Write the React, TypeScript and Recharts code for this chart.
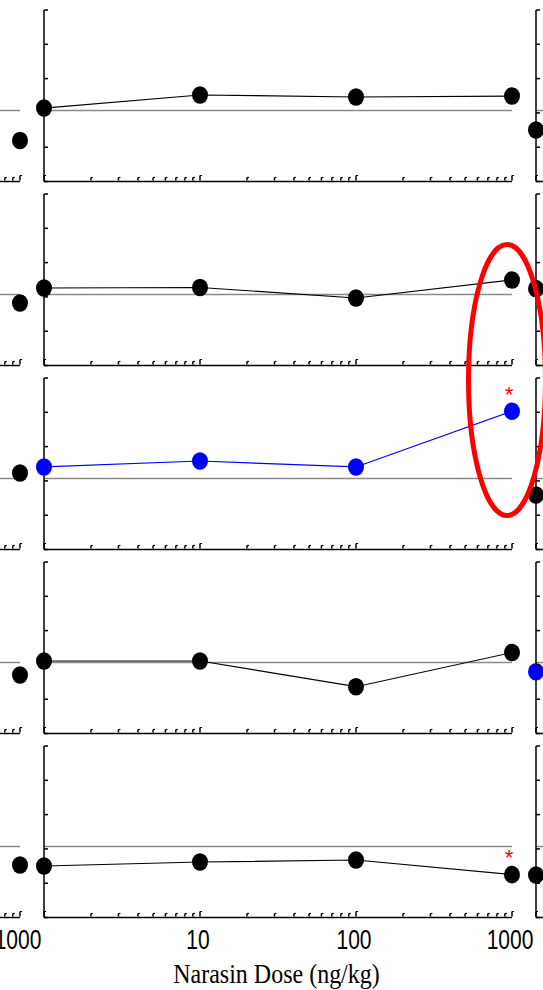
import React from 'react';
import { ComposedChart, Line, XAxis, YAxis } from 'recharts';

// ---- data ----
const doses = [1, 10, 100, 1000];
const xTicks = [1, 2, 3, 4, 5, 6, 7, 8, 9, 10, 20, 30, 40, 50, 60, 70, 80, 90, 100, 200, 300, 400, 500, 600, 700, 800, 900, 1000];
const majorTicks = [1, 10, 100, 1000];
const xLabels = [10, 100, 1000];
const leftNeighborLabels = [1000];
const yTicks = [0, 50, 100, 150, 200, 250];
const baseline = 103.5;

const panelA = [107.1, 126.1, 123.2, 124.6];
const panelB = [113.0, 113.7, 98.4, 124.7];
const panelC = [120.3, 129.0, 120.3, 201.5];
const panelD = [105.7, 105.7, 68.2, 118.0];
const panelE = [75.1, 80.9, 83.8, 62.5];
const mainPanels = [panelA, panelB, panelC, panelD, panelE];
const mainColors = ['#000000', '#000000', '#0000ff', '#000000', '#000000'];
const mainSignificant = [[], [], [1000], [], [1000]];

// partially visible neighbouring columns of the figure
const leftNeighbor1000 = [59.8, 91.1, 111.5, 85.3, 76.5];
const rightNeighbor1 = [75.1, 112.0, 79.4, 90.1, 62.0];
const rightColors = ['#000000', '#000000', '#000000', '#0000ff', '#000000'];

const xTitle = 'Narasin Dose (ng/kg)';

const PANEL_STEP = 184;
const COLUMN_STEP = 492;

function makeXTick(labels: number[]) {
  return (p: any) => {
    const v = p.payload.value;
    const major = majorTicks.includes(v);
    const x = p.x;
    const y = p.y - 1;
    const h = major ? 5 : 3;
    return (
      <g key={`t-${v}`}>
        <line x1={x} x2={x} y1={y} y2={y - h} stroke="#000" strokeWidth={1.5} />
        <line x1={x} x2={x + 2} y1={y - h} y2={y - h} stroke="#000" strokeWidth={1.2} />
        {labels.includes(v) && (
          <text
            transform={`translate(${x - 2},${y + 32.5}) scale(1,1.35)`}
            textAnchor="middle"
            fontFamily="'Liberation Sans', Arial, sans-serif"
            fontSize={21}
            fill="#000"
          >
            {v}
          </text>
        )}
      </g>
    );
  };
}

function yTick(p: any) {
  return (
    <g key={`y-${p.payload.value}`}>
      <line x1={p.x} x2={p.x + 4} y1={p.y} y2={p.y} stroke="#000" strokeWidth={1.5} />
    </g>
  );
}

function titleContent(props: any) {
  const vb = props.viewBox || {};
  const cx = vb.x + vb.width / 2 - 1.5;
  const cy = vb.y + 65.5;
  return (
    <text
      transform={`translate(${cx},${cy}) scale(1,1.12)`}
      textAnchor="middle"
      fontFamily="'Liberation Serif', 'Times New Roman', serif"
      fontSize={24}
      fill="#000"
    >
      {xTitle}
    </text>
  );
}

function makeDot(color: string, sig: number[]) {
  return (p: any) => {
    const { cx, cy, payload, index } = p;
    if (cx == null || cy == null) return <g key={`d-${index}`} />;
    return (
      <g key={`d-${index}`}>
        <ellipse cx={cx} cy={cy} rx={8} ry={8.8} fill={color} stroke="none" />
        {sig.includes(payload.dose) && (
          <text x={cx - 3} y={cy - 9.5} textAnchor="middle" fontFamily="'Liberation Sans', Arial, sans-serif" fontSize={22} fill="#ff0000">
            *
          </text>
        )}
      </g>
    );
  };
}

type PanelProps = {
  values: (number | null)[];
  color: string;
  sig: number[];
  left: number;
  top: number;
  last: boolean;
  labels: number[];
  showTitle: boolean;
};

function Panel({ values, color, sig, left, top, last, labels, showTitle }: PanelProps) {
  const data = doses.map((d, i) => ({ dose: d, v: values[i] })).filter((p) => p.v != null);
  const refData = [
    { dose: doses[0], v: baseline },
    { dose: doses[doses.length - 1], v: baseline },
  ];
  const height = last ? 254 : 184;
  return (
    <div style={{ position: 'absolute', left, top, width: 543, height }}>
      <ComposedChart width={543} height={height} data={data} margin={{ top: 10, right: 31, bottom: height - 181.5 - 1, left: 44 }}>
        <XAxis
          dataKey="dose"
          type="number"
          scale="log"
          domain={[1, 1000]}
          ticks={xTicks}
          interval={0}
          height={1}
          tickSize={0}
          tickMargin={0}
          tickLine={false}
          axisLine={{ stroke: '#000', strokeWidth: 1.5 }}
          tick={makeXTick(last ? labels : [])}
          label={last && showTitle ? titleContent : undefined}
        />
        <YAxis
          type="number"
          domain={[0, 250]}
          ticks={yTicks}
          interval={0}
          width={1}
          mirror
          tickSize={0}
          tickMargin={0}
          tickLine={false}
          tick={yTick}
          axisLine={{ stroke: '#000', strokeWidth: 1.5 }}
        />
        <Line
          data={refData}
          dataKey="v"
          stroke="#8a8a8a"
          strokeWidth={1.5}
          dot={false}
          activeDot={false}
          isAnimationActive={false}
        />
        <Line
          dataKey="v"
          stroke={color}
          strokeWidth={1.2}
          dot={makeDot(color, sig)}
          activeDot={false}
          isAnimationActive={false}
        />
      </ComposedChart>
    </div>
  );
}

export default function App() {
  const panels: React.ReactNode[] = [];
  mainPanels.forEach((vals, i) => {
    const top = i * PANEL_STEP;
    const last = i === mainPanels.length - 1;
    panels.push(
      <Panel key={`l${i}`} values={[null, null, null, leftNeighbor1000[i]]} color="#000000" sig={[]} left={-COLUMN_STEP} top={top} last={last} labels={leftNeighborLabels} showTitle={false} />
    );
    panels.push(
      <Panel key={`m${i}`} values={vals} color={mainColors[i]} sig={mainSignificant[i]} left={0} top={top} last={last} labels={xLabels} showTitle />
    );
    panels.push(
      <Panel key={`r${i}`} values={[rightNeighbor1[i], null, null, null]} color={rightColors[i]} sig={[]} left={COLUMN_STEP} top={top} last={last} labels={[]} showTitle={false} />
    );
  });
  return (
    <div style={{ position: 'absolute', left: 0, top: 0, width: 543, height: 990, overflow: 'hidden', background: '#fff' }}>
      {panels}
      <svg width={543} height={990} style={{ position: 'absolute', left: 0, top: 0, pointerEvents: 'none' }}>
        <ellipse cx={507} cy={380} rx={38.5} ry={135.5} fill="none" stroke="#ff0000" strokeWidth={5} />
      </svg>
    </div>
  );
}
